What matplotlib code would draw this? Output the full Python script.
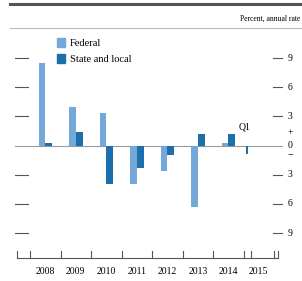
import numpy as np
import matplotlib.pyplot as plt
from matplotlib.lines import Line2D
from matplotlib.patches import Patch

plt.rcParams['font.family'] = ['Liberation Serif', 'DejaVu Serif']

years = [2008, 2009, 2010, 2011, 2012, 2013, 2014]
federal = [8.5, 4.0, 3.3, -4.0, -2.6, -6.3, 0.3]
state_local = [0.3, 1.4, -4.0, -2.3, -1.0, 1.2, 1.2]
q1_year = 2015
q1_state = -0.9
q1_label = 'Q1'
ytick_vals = [9, 6, 3, -3, -6, -9]
right_labels = ['9', '6', '3', '3', '6', '9']

c_fed = '#74a8d8'
c_state = '#1c6fab'

fig = plt.figure(figsize=(3.02, 2.81), dpi=100)
ax = fig.add_axes([15/302, 23/281, 268/302, 230/281])
ax.set_xlim(2007.508, 2016.295)
ax.set_ylim(-11.57, 12.09)

x = np.array(years)
ax.bar(x + 0.39, federal, width=0.22, color=c_fed)
ax.bar(x + 0.615, state_local, width=0.22, color=c_state)
ax.bar(q1_year + 0.125, q1_state, width=0.06, color=c_state)
ax.text(q1_year + 0.05, 1.4, q1_label, fontsize=7, ha='center', va='bottom')

# zero line
ax.axhline(0, color='#9a9a9a', lw=0.8, zorder=0)

# bottom axis
ax.plot([2007.57, 2016.13], [-11.55, -11.55], color='#555555', lw=0.8, clip_on=False)
for t in list(range(2008, 2017)) + [2007.57, 2015.23, 2016.13]:
    ax.plot([t, t], [-11.55, -10.85], color='#555555', lw=0.8, clip_on=False)
for y in years + [2015]:
    ax.text(y + 0.5, -12.5, str(y), fontsize=7, ha='center', va='top')

for s in ax.spines.values():
    s.set_visible(False)
ax.set_xticks([])
ax.set_yticks([])

# left and right tick dashes
for v, lab in zip(ytick_vals, right_labels):
    ax.plot([2007.508, 2007.93], [v, v], color='#555555', lw=0.8)
    ax.plot([2015.97, 2016.295], [v, v], color='#555555', lw=0.8)
    ax.text(2016.45, v, lab, fontsize=7, ha='left', va='center', clip_on=False)
ax.text(2016.45, 1.3, '+', fontsize=7, ha='left', va='center')
ax.text(2016.45, 0.0, '0', fontsize=7, ha='left', va='center')
ax.text(2016.45, -1.0, '\u2212', fontsize=7, ha='left', va='center')

handles = [Patch(color=c_fed, label='Federal'),
           Patch(color=c_state, label='State and local')]
ax.legend(handles=handles, loc='upper left', bbox_to_anchor=(0.14, 0.975),
          frameon=False, fontsize=7.5, handlelength=0.8, handleheight=0.9,
          handletextpad=0.5, labelspacing=0.6, borderaxespad=0)

# header lines and unit label
fig.add_artist(Line2D([10/302, 1], [1 - 4/281, 1 - 4/281], color='#555555', lw=2.2))
fig.add_artist(Line2D([10/302, 1], [1 - 28/281, 1 - 28/281], color='#bbbbbb', lw=0.8))
fig.text(300/302, 1 - 19/281, 'Percent, annual rate', fontsize=5.5, ha='right', va='center')

fig.savefig('out.png', dpi=100)
